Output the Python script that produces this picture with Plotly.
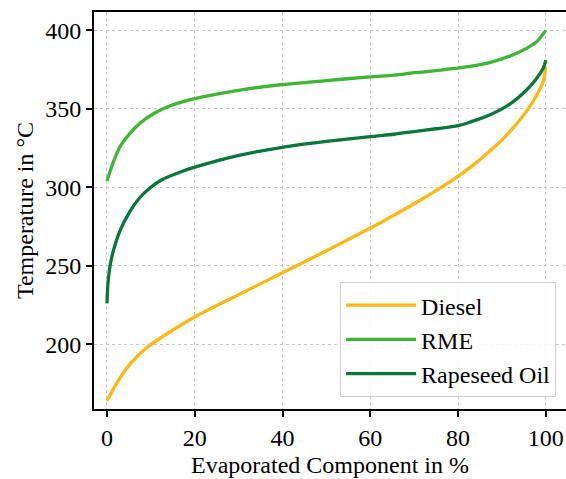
import plotly.graph_objects as go

# Data
diesel_x = [0, 2.2, 4.5, 6.8, 9.4, 13.6, 20.4, 30.3, 40, 50, 60, 64.5, 70, 75.9, 80, 82.7, 87.2, 90.3, 91.8, 95.6, 97.9, 99.4, 100]
diesel_y = [163.9, 175, 184.7, 192, 198.5, 206.5, 218, 232, 245.5, 259.5, 274, 280.8, 289.5, 299.5, 307, 312.5, 323, 331, 335.5, 348.5, 358.5, 367.5, 377]

rme_x = [0, 1.44, 3, 5.24, 7.5, 10.5, 13.6, 16.6, 20, 31.4, 40, 50, 60, 65.4, 70, 76, 80, 82.7, 87.2, 91.8, 95.6, 97.9, 100]
rme_y = [304, 316, 326, 334.4, 340.8, 346.7, 351, 353.9, 356.5, 362.4, 365.5, 368, 370.4, 371.5, 373, 374.6, 376, 377, 379.4, 383.6, 388.5, 392.7, 400]

oil_x = [0, 0.2, 0.5, 0.9, 1.5, 3, 5.2, 7.5, 10, 12.5, 16.6, 20, 30.3, 40, 50, 60, 65.4, 70, 75, 80, 82.7, 87.2, 91.8, 95.6, 97.9, 99.4, 100]
oil_y = [226, 238, 246, 253, 260, 272.5, 284.5, 293.5, 300, 304.8, 309.6, 312.8, 320.5, 325.5, 329.2, 332.3, 333.8, 335.5, 337.3, 339.3, 341.5, 346, 353, 362, 369.4, 375.8, 381]

x_ticks = [0, 20, 40, 60, 80, 100]
y_ticks = [200, 250, 300, 350, 400]

series = [
    ("Diesel", diesel_x, diesel_y, "#FDB813"),
    ("RME", rme_x, rme_y, "#3DB535"),
    ("Rapeseed Oil", oil_x, oil_y, "#08773A"),
]

FONT = "Liberation Serif"
FS = 24

fig = go.Figure()
for name, xs, ys, col in series:
    fig.add_trace(go.Scatter(
        x=xs, y=ys, mode="lines", name=name,
        line=dict(color=col, width=3.3, shape="spline", smoothing=0.8),
    ))

fig.update_layout(
    width=566, height=479,
    margin=dict(l=94, r=0, t=12, b=70),
    paper_bgcolor="white", plot_bgcolor="white",
    font=dict(family=FONT, size=FS, color="black"),
    showlegend=True,
    legend=dict(
        x=0.979, y=0.03, xanchor="right", yanchor="bottom",
        bordercolor="#d0d0d0", borderwidth=1, bgcolor="rgba(255,255,255,0.85)",
        font=dict(family=FONT, size=FS, color="black"),
        itemwidth=70,
    ),
)
fig.update_xaxes(
    range=[-2.96, 104.6], tickvals=x_ticks, ticktext=[str(v) for v in x_ticks],
    showgrid=True, gridcolor="#c8c8c8", griddash="dot", gridwidth=1,
    showline=True, linecolor="black", linewidth=2, mirror=True,
    ticks="outside", ticklen=6, tickwidth=1.5, tickcolor="black",
    zeroline=False, automargin=False,
    title=dict(text="Evaporated Component in %", font=dict(family=FONT, size=FS), standoff=6),
    tickfont=dict(family=FONT, size=FS),
)
fig.update_yaxes(
    range=[158.7, 411.7], tickvals=y_ticks, ticktext=[str(v) for v in y_ticks],
    showgrid=True, gridcolor="#c8c8c8", griddash="dot", gridwidth=1,
    showline=True, linecolor="black", linewidth=2, mirror=False,
    ticks="outside", ticklen=6, tickwidth=1.5, tickcolor="black",
    zeroline=False, automargin=False,
    title=dict(text="Temperature in °C", font=dict(family=FONT, size=FS), standoff=5),
    tickfont=dict(family=FONT, size=FS),
)

# remove the browser's default page margin so the figure fills the window exactly
fig.write_html(
    "out.html",
    config={"displayModeBar": False},
    post_script="document.body.style.margin='0';document.body.style.overflow='hidden';",
)
